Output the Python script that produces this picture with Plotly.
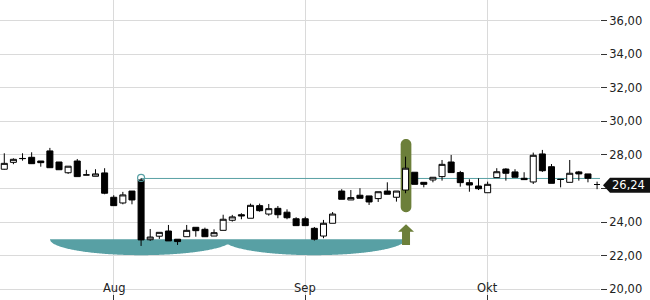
import numpy as np
import plotly.graph_objects as go

# ---------------- data ----------------
day_index = list(range(66))
opens = [27.15, 27.56, 27.78, 27.86, 27.64, 28.24, 27.58, 26.94, 27.64, 26.81,
         26.73, 26.93, 25.48, 25.14, 25.85, 26.51, 22.95, 23.16, 23.47, 22.98,
         23.13, 23.69, 23.57, 23.17, 23.51, 24.11, 24.44, 24.23, 24.98, 24.48,
         24.82, 24.59, 24.20, 24.20, 23.63, 23.17, 23.93, 25.85, 25.32, 25.60,
         25.56, 25.40, 25.85, 25.48, 25.91, 26.97, 26.37, 26.51, 26.71, 27.58,
         26.95, 26.35, 26.15, 25.75, 26.65, 27.16, 26.99, 26.61, 26.39, 28.06,
         27.30, 26.55, 26.37, 26.99, 26.87, 26.24]
highs = [28.10, 27.80, 28.10, 28.16, 27.64, 28.42, 27.58, 27.33, 27.76, 27.11,
         27.15, 27.21, 25.60, 25.80, 25.85, 26.61, 23.59, 23.39, 23.83, 22.98,
         23.83, 23.69, 23.67, 23.57, 24.44, 24.43, 24.53, 25.10, 25.10, 25.08,
         24.96, 24.76, 24.29, 24.32, 23.71, 24.13, 24.60, 25.96, 25.91, 26.02,
         25.56, 25.81, 26.37, 25.85, 27.90, 26.97, 26.37, 26.67, 27.70, 28.00,
         27.05, 26.55, 26.61, 26.41, 27.21, 27.21, 27.15, 26.97, 28.14, 28.30,
         27.46, 26.57, 27.70, 27.05, 26.87, 26.41]
lows = [27.12, 27.45, 27.66, 27.46, 27.30, 27.24, 27.12, 26.87, 26.71, 26.81,
        26.73, 25.66, 24.98, 25.06, 25.06, 22.58, 22.88, 23.00, 22.88, 22.64,
        23.13, 23.13, 23.13, 23.17, 23.51, 24.03, 24.17, 24.23, 24.62, 24.38,
        24.23, 24.17, 23.79, 23.79, 22.90, 23.04, 23.93, 25.36, 25.32, 25.42,
        25.02, 25.20, 25.66, 25.22, 25.72, 26.25, 26.07, 26.37, 26.47, 26.95,
        26.11, 25.81, 25.91, 25.75, 26.65, 26.47, 26.67, 26.53, 26.27, 26.99,
        26.31, 26.07, 26.37, 26.47, 26.37, 25.96]
closes = [27.50, 27.74, 27.79, 27.48, 27.54, 27.24, 27.12, 27.33, 26.71, 26.81,
          26.87, 25.72, 24.98, 25.62, 25.32, 22.94, 23.11, 23.39, 22.88, 22.84,
          23.51, 23.49, 23.13, 23.37, 24.17, 24.31, 24.37, 25.00, 24.68, 24.80,
          24.44, 24.26, 23.79, 23.79, 22.98, 23.93, 24.48, 25.36, 25.46, 25.42,
          25.20, 25.81, 25.66, 25.85, 27.21, 26.25, 26.25, 26.67, 27.44, 26.95,
          26.35, 26.21, 25.99, 26.25, 27.00, 26.91, 26.67, 26.53, 27.98, 27.06,
          26.31, 26.54, 26.91, 26.87, 26.61, 26.24]

month_ticks = [12, 33, 53]
month_labels = ["Aug", "Sep", "Okt"]
price_ticks = [20, 22, 24, 26, 28, 30, 32, 34, 36]
# the 26,00 label is hidden behind the last-price marker in the reference
price_labels = ["" if v == 26 else f"{v:.2f}".replace(".", ",") for v in price_ticks]

# chart-pattern annotations
resistance_level = 26.6
resistance_start = 15
cup_top = 22.98
cup_depth = 0.95
bowls = [(5, 25), (24, 44)]          # start / end index of each bowl
breakout_index = 44
highlight_range = (24.59, 28.95)
arrow_levels = (22.64, 23.43, 23.87)  # stem bottom, head base, tip
last_price = closes[-1]

# ---------------- geometry helpers ----------------
W, H = 650, 300
ML, MR, MT, MB = 0, 50, 0, 0
x_range = [-0.47, 65.32]
y_range = [19.36, 37.23]
px_x = (W - ML - MR) / (x_range[1] - x_range[0])   # px per index unit
px_y = (H - MT - MB) / (y_range[1] - y_range[0])   # px per price unit

TEAL = "#58a0a4"
OLIVE = "#6c7f3a"
GRID = "#dadada"
TEXT = "#222222"

# cup (two half-ellipse bowls, union)
xs = np.linspace(bowls[0][0], bowls[-1][1], 400)
depth = np.zeros_like(xs)
for s, e in bowls:
    c, a = (s + e) / 2, (e - s) / 2
    depth = np.maximum(depth, np.sqrt(np.clip(1 - ((xs - c) / a) ** 2, 0, None)))
ys = cup_top - cup_depth * depth
cup_path = f"M {xs[0]},{cup_top} " + " ".join(f"L {x:.4f},{y:.4f}" for x, y in zip(xs, ys)) + \
           f" L {xs[-1]},{cup_top} Z"

# rounded highlight around breakout candle
hx = breakout_index + 0.05
rx = 5.35 / px_x
ry = 5.35 / px_y
lo, hi = highlight_range
pts = []
for t in np.linspace(0, np.pi, 24):
    pts.append((hx + rx * np.cos(t), hi - ry + ry * np.sin(t)))
for t in np.linspace(np.pi, 2 * np.pi, 24):
    pts.append((hx + rx * np.cos(t), lo + ry + ry * np.sin(t)))
hl_path = "M " + " L ".join(f"{x:.4f},{y:.4f}" for x, y in pts) + " Z"

# breakout arrow
stem_b, head_b, tip = arrow_levels
hw, sw = 8 / px_x, 4 / px_x
arrow_pts = [(hx, tip), (hx + hw, head_b), (hx + sw, head_b), (hx + sw, stem_b),
             (hx - sw, stem_b), (hx - sw, head_b), (hx - hw, head_b)]
arrow_path = "M " + " L ".join(f"{x:.4f},{y:.4f}" for x, y in arrow_pts) + " Z"

# price label (arrow box at the right axis)
lab_c = last_price - 0.05
lab_h = 7.5 / px_y
pw = W - ML - MR
label_path = (f"M {603/pw},{lab_c} L {610/pw},{lab_c+lab_h} L {1.1},{lab_c+lab_h} "
              f"L {1.1},{lab_c-lab_h} L {610/pw},{lab_c-lab_h} Z")

fig = go.Figure()

fig.add_trace(go.Scatter(
    x=[resistance_start], y=[highs[resistance_start] + 0.02], mode="markers",
    marker=dict(symbol="circle-open", size=7, color=TEAL, line=dict(width=1.2, color=TEAL)),
    hoverinfo="skip", showlegend=False))

fig.add_trace(go.Candlestick(
    x=day_index, open=opens, high=highs, low=lows, close=closes,
    increasing=dict(fillcolor="#ffffff", line=dict(color="#000000", width=1)),
    decreasing=dict(fillcolor="#000000", line=dict(color="#000000", width=1)),
    whiskerwidth=0, showlegend=False, hoverinfo="skip"))

shapes = [
    dict(type="path", path=cup_path, xref="x", yref="y", fillcolor=TEAL,
         line=dict(width=0), layer="between"),
    dict(type="line", x0=resistance_start, x1=x_range[1], y0=resistance_level, y1=resistance_level,
         xref="x", yref="y", line=dict(color=TEAL, width=1), layer="between"),
    dict(type="path", path=hl_path, xref="x", yref="y", fillcolor=OLIVE,
         line=dict(width=0), layer="between"),
    dict(type="path", path=arrow_path, xref="x", yref="y", fillcolor=OLIVE,
         line=dict(width=0), layer="between"),
    dict(type="path", path=label_path, xref="paper", yref="y", fillcolor="#111111",
         line=dict(width=0), layer="above"),
]

annotations = [dict(x=1.0473, y=lab_c, xref="paper", yref="y",
                    text=f"{last_price:.2f}".replace(".", ","), showarrow=False,
                    font=dict(color="white", size=11.5, family="DejaVu Sans"),
                    xanchor="center", yanchor="middle")]
# month labels sit inside the plot area, just above the bottom tick marks
for t, lab in zip(month_ticks, month_labels):
    annotations.append(dict(x=t, y=1 - 287.5 / H, xref="x", yref="paper", text=lab,
                            showarrow=False, xanchor="center", yanchor="middle",
                            font=dict(color=TEXT, size=11.5, family="DejaVu Sans")))

fig.update_layout(
    width=W, height=H,
    margin=dict(l=ML, r=MR, t=MT, b=MB, pad=0),
    paper_bgcolor="white", plot_bgcolor="white",
    font=dict(family="DejaVu Sans", size=11.5, color=TEXT),
    showlegend=False,
    boxgap=0.34, boxgroupgap=0,
    shapes=shapes,
    annotations=annotations,
    hovermode=False,
    xaxis=dict(range=x_range, tickmode="array", tickvals=month_ticks,
               showticklabels=False,
               showgrid=True, gridcolor=GRID, gridwidth=1, zeroline=False, showline=False,
               ticks="inside", ticklen=5, tickcolor="#333333",
               rangeslider=dict(visible=False), fixedrange=True),
    yaxis=dict(range=y_range, side="right", tickmode="array", tickvals=price_ticks,
               ticktext=price_labels, showgrid=True, gridcolor=GRID, gridwidth=1,
               zeroline=False, showline=False, ticks="outside", ticklen=6,
               tickcolor="#333333", ticklabeloverflow="allow", fixedrange=True),
)

fig.write_html("out.html")
